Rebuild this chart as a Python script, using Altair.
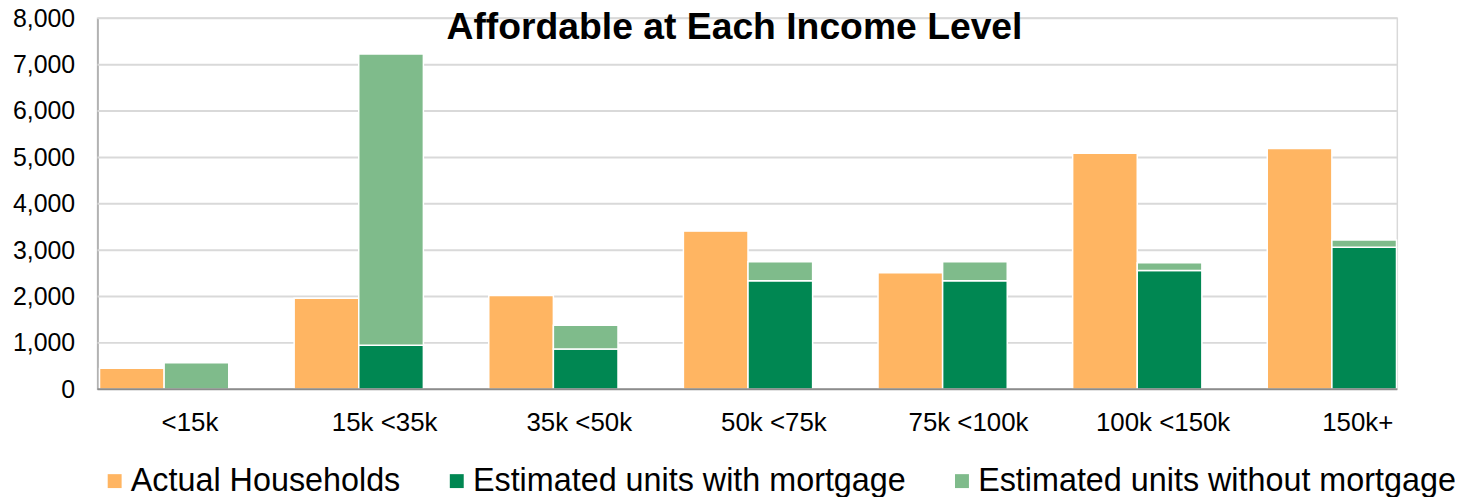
import altair as alt
import pandas as pd

# ---- data ----
categories = ["<15k", "15k <35k", "35k <50k", "50k <75k", "75k <100k", "100k <150k", "150k+"]
actual_households = [450, 1960, 2020, 3410, 2510, 5090, 5190]
units_with_mortgage = [0, 950, 870, 2340, 2340, 2560, 3060]
units_without_mortgage = [570, 6280, 510, 410, 410, 170, 160]

series_names = ["Actual Households", "Estimated units with mortgage", "Estimated units without mortgage"]
series_colors = ["#FFB562", "#008752", "#7FBB8B"]
y_ticks = [0, 1000, 2000, 3000, 4000, 5000, 6000, 7000, 8000]
title_text = "Affordable at Each Income Level"

rows = []
for i, c in enumerate(categories):
    rows.append({"category": c, "group": "A", "series": series_names[0], "value": actual_households[i], "ord": 0})
    rows.append({"category": c, "group": "B", "series": series_names[1], "value": units_with_mortgage[i], "ord": 0})
    rows.append({"category": c, "group": "B", "series": series_names[2], "value": units_without_mortgage[i], "ord": 1})
df = pd.DataFrame(rows)

FONT = "Liberation Sans"
W, H = 1307, 373

y_scale = alt.Scale(domain=[0, 8000], nice=False)
y_axis = alt.Axis(title=None, values=y_ticks, format=",.0f", ticks=False, grid=False, labelPadding=23,
                  labelFontSize=25, labelColor="black", labelFont=FONT,
                  domainColor="#A6A6A6", domainWidth=1.5)

grid = alt.Chart(pd.DataFrame({"value": y_ticks[1:]})).mark_rule(color="#D9D9D9", strokeWidth=2).encode(
    y=alt.Y("value:Q", scale=y_scale, axis=y_axis)
)

bars = alt.Chart(df).transform_filter("datum.value > 0").mark_bar(
    stroke="white", strokeWidth=1.5
).encode(
    x=alt.X("category:N", sort=categories,
            scale=alt.Scale(domain=categories, range=[-30.85, 1339.05], paddingInner=0.336, paddingOuter=0.168),
            axis=alt.Axis(title=None, labelAngle=0, domain=False, ticks=False, grid=False, labelPadding=20,
                          labelOffset=26, labelFontSize=26, labelColor="black", labelFont=FONT)),
    xOffset=alt.XOffset("group:N", scale=alt.Scale(domain=["A", "B"], paddingInner=0, paddingOuter=0)),
    y=alt.Y("value:Q", stack="zero", scale=y_scale, axis=y_axis),
    color=alt.Color("series:N",
                    scale=alt.Scale(domain=series_names, range=series_colors),
                    legend=alt.Legend(title=None, orient="none", direction="horizontal",
                                      legendX=1, legendY=449, symbolType="square", symbolSize=196,
                                      symbolStrokeWidth=0, labelFontSize=32.5, labelFont=FONT,
                                      labelColor="black", labelOffset=0, columnPadding=40,
                                      labelLimit=600)),
    order=alt.Order("ord:Q"),
)

base_rule = alt.Chart(pd.DataFrame({"value": [0]})).mark_rule(color="#8C8C8C", strokeWidth=2).encode(
    y=alt.Y("value:Q", scale=y_scale, axis=y_axis)
)

title = alt.Chart(pd.DataFrame({"t": [title_text]})).mark_text(
    font=FONT, fontSize=37.5, fontWeight="bold", color="black", align="center", baseline="alphabetic"
).encode(text="t:N", x=alt.value(640.5), y=alt.value(21))

chart = alt.layer(grid, bars, base_rule, title).properties(
    width=W, height=H,
    autosize=alt.AutoSizeParams(type="none"),
    padding={"left": 90, "top": 9, "right": 58, "bottom": 107},
).configure_view(stroke="#D9D9D9", strokeWidth=1.5)

chart.save("out.html", embed_options={"renderer": "svg", "actions": False})
